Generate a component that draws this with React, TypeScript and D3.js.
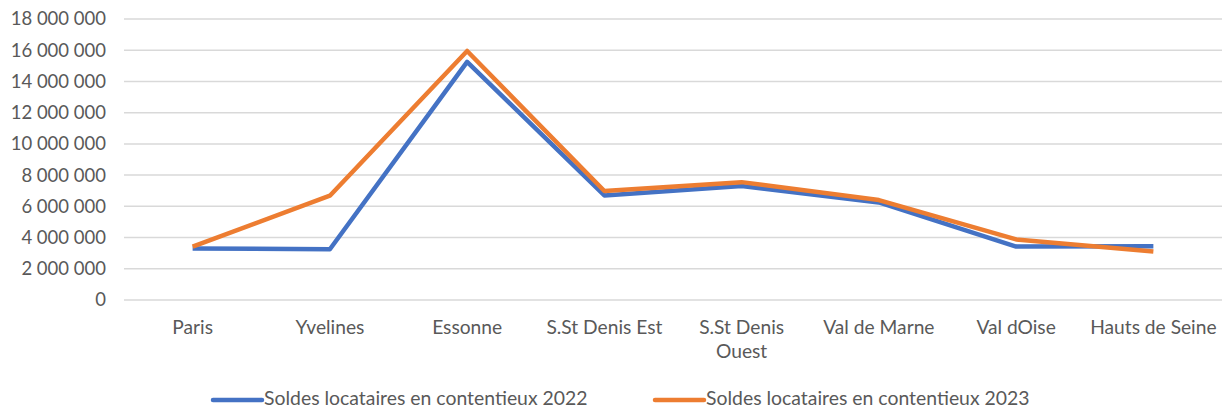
import React from "react";
import * as d3 from "d3";

const categories = ["Paris", "Yvelines", "Essonne", "S.St Denis Est", "S.St Denis Ouest", "Val de Marne", "Val dOise", "Hauts de Seine"];
const series2022 = [3300000, 3250000, 15250000, 6700000, 7300000, 6250000, 3420000, 3450000];
const series2023 = [3420000, 6680000, 15950000, 6980000, 7550000, 6400000, 3880000, 3100000];
const yTicks = [0, 2000000, 4000000, 6000000, 8000000, 10000000, 12000000, 14000000, 16000000, 18000000];
const seriesNames = ["Soldes locataires en contentieux 2022", "Soldes locataires en contentieux 2023"];
const colors = ["#4472C4", "#ED7D31"];

const W = 1223, H = 410;
const left = 124, right = 1222, top = 19, bottom = 300;
const font = "Lato, 'Open Sans', sans-serif";

function fmt(v: number) {
  return String(v).replace(/\B(?=(\d{3})+(?!\d))/g, " ");
}

export default function App() {
  const x = d3.scaleBand<string>().domain(categories).range([left, right]);
  const y = d3.scaleLinear().domain([0, 18000000]).range([bottom, top]);
  const line = d3.line<number>()
    .x((_, i) => (x(categories[i]) as number) + x.bandwidth() / 2)
    .y((d) => y(d));
  const wrap = (c: string) => (c === "S.St Denis Ouest" ? ["S.St Denis", "Ouest"] : [c]);
  return (
    <svg width={W} height={H} style={{ position: "absolute", left: 0, top: 0, background: "#fff" }}>
      {yTicks.map((t) => (
        <g key={t}>
          <line x1={left} x2={right} y1={y(t)} y2={y(t)} stroke="#d9d9d9" strokeWidth={1.5} />
          <text x={106} y={y(t)} dy="0.35em" textAnchor="end" fontFamily={font} fontSize={18.5} fill="#595959">{fmt(t)}</text>
        </g>
      ))}
      {categories.map((c) => (
        <text key={c} textAnchor="middle" fontFamily={font} fontSize={19.2} fill="#595959">
          {wrap(c).map((s, j) => (
            <tspan key={j} x={(x(c) as number) + x.bandwidth() / 2} y={334 + j * 24}>{s}</tspan>
          ))}
        </text>
      ))}
      {[series2022, series2023].map((s, i) => (
        <path key={i} d={line(s) as string} fill="none" stroke={colors[i]} strokeWidth={4.5} strokeLinejoin="round" />
      ))}
      {seriesNames.map((n, i) => {
        const lx = i === 0 ? 213 : 655;
        return (
          <g key={n}>
            <line x1={lx} x2={lx + 49} y1={400} y2={400} stroke={colors[i]} strokeWidth={4.5} strokeLinecap="round" />
            <text x={lx + 51} y={398} dy="0.35em" fontFamily={font} fontSize={19.4} fill="#595959">{n}</text>
          </g>
        );
      })}
    </svg>
  );
}
